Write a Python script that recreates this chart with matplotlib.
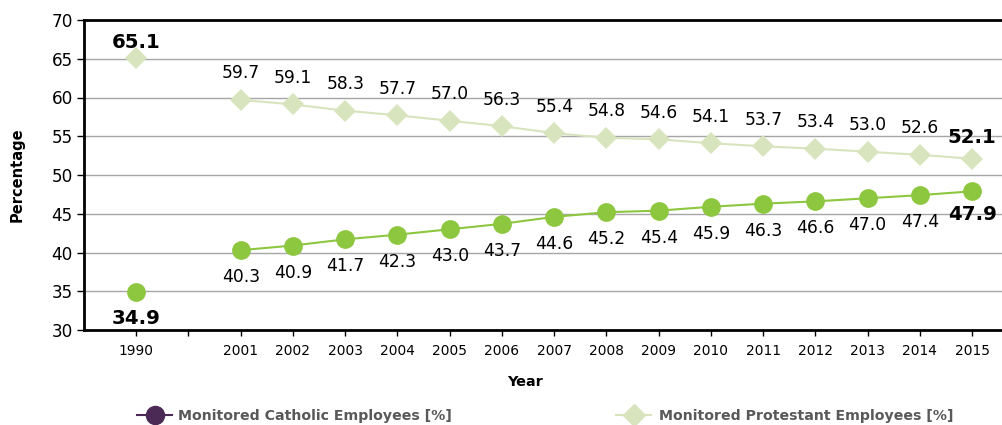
import numpy as np
import matplotlib
matplotlib.use("Agg")
import matplotlib.pyplot as plt
from matplotlib.lines import Line2D

plt.rcParams['font.family'] = ['DejaVu Sans']

categories = ["1990", "", "2001", "2002", "2003", "2004", "2005", "2006", "2007",
              "2008", "2009", "2010", "2011", "2012", "2013", "2014", "2015"]
catholic = [34.9, np.nan, 40.3, 40.9, 41.7, 42.3, 43.0, 43.7, 44.6, 45.2, 45.4,
            45.9, 46.3, 46.6, 47.0, 47.4, 47.9]
protestant = [65.1, np.nan, 59.7, 59.1, 58.3, 57.7, 57.0, 56.3, 55.4, 54.8, 54.6,
              54.1, 53.7, 53.4, 53.0, 52.6, 52.1]
y_ticks = [30, 35, 40, 45, 50, 55, 60, 65, 70]

cat_color = "#8DC63F"
prot_color = "#D7E4BD"
legend_cat_color = "#4B2A55"

W, H = 1003, 425
fig = plt.figure(figsize=(W / 100, H / 100), dpi=100)
ax = fig.add_axes([84 / W, 1 - 330 / H, (1003 - 84) / W, (330 - 20) / H])

x = np.arange(len(categories))
ax.plot(x, protestant, color=prot_color, lw=1.5, marker="D", ms=11,
        markeredgewidth=0, zorder=3)
ax.plot(x, catholic, color=cat_color, lw=1.5, marker="o", ms=13.5,
        markeredgewidth=0, zorder=4)

ax.set_xlim(-1, 16.59)
ax.set_ylim(30, 70)
ax.set_yticks(y_ticks)
ax.set_yticklabels([str(v) for v in y_ticks], fontsize=12.2)
ax.set_xticks(x)
ax.set_xticklabels(categories, fontsize=9.9)
ax.tick_params(axis="y", length=5, width=1, pad=3)
ax.tick_params(axis="x", length=4, width=1, pad=6)

for yv in y_ticks[1:-1]:
    ax.axhline(yv, color="#A6A6A6", lw=1, zorder=1)
ax.spines["right"].set_visible(False)
ax.spines["top"].set_linewidth(2)
ax.spines["left"].set_linewidth(2)
ax.spines["bottom"].set_linewidth(2)

last = len(categories) - 1
for i, (c, p) in enumerate(zip(catholic, protestant)):
    if np.isnan(c):
        continue
    if i == 0:
        ax.annotate(f"{p:.1f}", (i, p), xytext=(0, 11.5), textcoords="offset points",
                    ha="center", va="center", fontsize=14.2, fontweight="bold")
        ax.annotate(f"{c:.1f}", (i, c), xytext=(0, -19), textcoords="offset points",
                    ha="center", va="center", fontsize=14.2, fontweight="bold")
    elif i == last:
        ax.annotate(f"{p:.1f}", (i, p), xytext=(0, 15), textcoords="offset points",
                    ha="center", va="center", fontsize=14.2, fontweight="bold")
        ax.annotate(f"{c:.1f}", (i, c), xytext=(0, -17), textcoords="offset points",
                    ha="center", va="center", fontsize=14.2, fontweight="bold")
    else:
        ax.annotate(f"{p:.1f}", (i, p), xytext=(0, 19), textcoords="offset points",
                    ha="center", va="center", fontsize=12.3)
        ax.annotate(f"{c:.1f}", (i, c), xytext=(0, -19.5), textcoords="offset points",
                    ha="center", va="center", fontsize=12.3)

fig.text(17 / W, 1 - 175 / H, "Percentage", rotation=90, ha="center", va="center",
         fontsize=10.5, fontweight="bold")
fig.text(525 / W, 1 - 382 / H, "Year", ha="center", va="center",
         fontsize=10.4, fontweight="bold")

h1 = Line2D([], [], color=legend_cat_color, lw=1.5, marker="o", ms=13)
h2 = Line2D([], [], color=prot_color, lw=1.5, marker="D", ms=11)
leg_fs = 10.2
leg1 = fig.legend([h1], ["Monitored Catholic Employees [%]"], loc="center left",
                  bbox_to_anchor=(137 / W, 1 - 416 / H), frameon=False,
                  handlelength=2.5, handletextpad=0.4, borderaxespad=0, borderpad=0,
                  prop={"size": leg_fs, "weight": "bold"})
leg2 = fig.legend([h2], ["Monitored Protestant Employees [%]"], loc="center left",
                  bbox_to_anchor=(616 / W, 1 - 416 / H), frameon=False,
                  handlelength=2.5, handletextpad=0.55, borderaxespad=0, borderpad=0,
                  prop={"size": leg_fs, "weight": "bold"})
for leg in (leg1, leg2):
    for t in leg.get_texts():
        t.set_color("#595959")

fig.savefig("out.png", dpi=100)
